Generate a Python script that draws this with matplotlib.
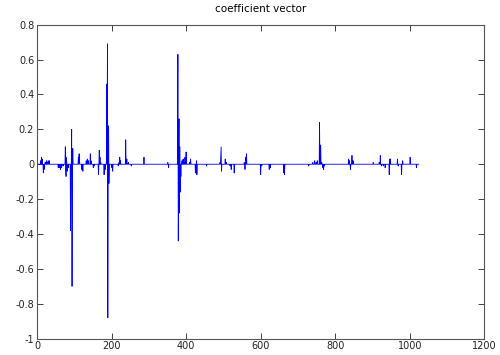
import numpy as np
import matplotlib
matplotlib.use('Agg')
import matplotlib.pyplot as plt
from matplotlib.ticker import FormatStrFormatter

# sparse coefficient vector, length 1024 (index -> value, all others are zero)
n_coef = 1024
nz_index = [10, 12, 14, 17, 19, 22, 25, 27, 30, 33,
            57, 60, 63, 66, 70, 76, 77, 78, 79, 81, 84,
            90, 93, 94, 96, 111, 113, 114, 120, 123,
            132, 135, 138, 143, 145, 151, 154, 165, 167, 169, 171,
            180, 183, 187, 189, 190, 192, 193, 201, 203,
            218, 220, 222, 224, 238, 241, 245, 253, 287, 351, 353,
            378, 379, 381, 382, 383, 384, 386, 389, 392, 394, 397, 400,
            409, 412, 425, 428, 429, 455,
            491, 493, 494, 495, 505, 508, 518, 521, 529,
            556, 558, 560, 562, 600, 603, 623, 626, 662, 664,
            729, 740, 745, 749, 752, 758, 761, 764, 767, 769, 771,
            836, 838, 841, 845, 848, 902, 918, 921, 924, 929, 934,
            945, 946, 948, 967, 969, 978, 981, 1001, 1018]
nz_value = [0.02, 0.04, 0.03, -0.05, -0.03, 0.01, 0.02, 0.01, 0.02, 0.02,
            -0.02, -0.02, -0.03, -0.02, -0.01, 0.10, -0.04, -0.07, 0.04, -0.04, -0.02,
            -0.38, 0.20, -0.70, 0.09, 0.04, 0.06, 0.02, -0.03, -0.04,
            0.02, 0.03, 0.02, 0.06, 0.02, -0.02, -0.01, -0.06, 0.08, 0.04, 0.01,
            -0.06, -0.03, 0.46, 0.69, -0.88, 0.22, -0.11, -0.02, -0.04,
            -0.01, 0.01, 0.04, 0.02, 0.14, 0.03, 0.01, -0.01, 0.04, 0.01, -0.02,
            0.63, -0.44, 0.26, -0.28, 0.10, -0.16, -0.07, 0.02, 0.03, 0.01, 0.04, 0.07,
            0.01, 0.03, -0.05, 0.02, -0.06, -0.01,
            0.01, 0.05, 0.10, -0.04, 0.03, 0.01, -0.01, -0.03, -0.05,
            0.01, -0.03, 0.04, 0.06, -0.06, -0.01, -0.03, -0.02, -0.05, -0.06,
            -0.01, 0.01, 0.02, 0.01, 0.02, 0.24, 0.11, 0.01, -0.02, -0.03, -0.01,
            0.03, 0.02, -0.03, 0.05, 0.02, 0.01, 0.01, 0.05, -0.01, -0.01, -0.02,
            -0.06, 0.03, 0.03, 0.03, -0.01, -0.06, 0.02, 0.04, -0.02]

coef = np.zeros(n_coef)
coef[np.array(nz_index) - 1] = nz_value
x = np.arange(1, n_coef + 1)

xticks = [0, 200, 400, 600, 800, 1000, 1200]
yticks = [-1, -0.8, -0.6, -0.4, -0.2, 0, 0.2, 0.4, 0.6, 0.8]

plt.rcParams['font.family'] = ['DejaVu Sans']

fig = plt.figure(figsize=(5.0, 3.55), dpi=100)
ax = fig.add_axes([0.074, 0.046, 0.8946, 0.8845])

ax.plot(x, coef, color='#0000ff', lw=0.6)

ax.set_xlim(0, 1200)
ax.set_ylim(-1, 0.8)
ax.set_xticks(xticks)
ax.set_yticks(yticks)
ax.yaxis.set_major_formatter(FormatStrFormatter('%g'))
ax.tick_params(direction='in', length=4, width=0.6, labelsize=7,
               top=True, right=True, colors='#222222', pad=2)
for s in ax.spines.values():
    s.set_color('#555555')
    s.set_linewidth(0.8)

ax.set_title('coefficient vector', fontsize=7.5, pad=9)

fig.savefig('out.png', dpi=100)
